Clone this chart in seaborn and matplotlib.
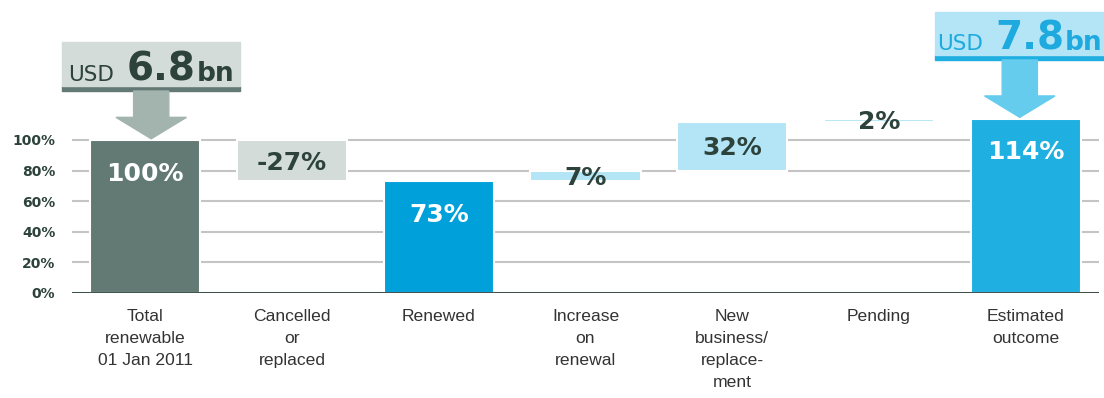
import matplotlib
matplotlib.use("Agg")
import matplotlib.pyplot as plt
import matplotlib.font_manager as fm
from matplotlib.patches import Rectangle, Polygon
import seaborn as sns

# chart data
categories = ["Total\nrenewable\n01 Jan 2011", "Cancelled\nor\nreplaced", "Renewed",
              "Increase\non\nrenewal", "New\nbusiness/\nreplace-\nment", "Pending",
              "Estimated\noutcome"]
heights = [100, 27, 73, 7, 32, 2, 114]
bottoms = [0, 73, 0, 73, 80, 112, 0]
value_labels = ["100%", "-27%", "73%", "7%", "32%", "2%", "114%"]
bar_colors = ["#627A73", "#D3DCD9", "#00A0DB", "#B3E5F6", "#B3E5F6", "#B3E5F6", "#1FAFE1"]
yticks = [0, 20, 40, 60, 80, 100]
start_total = ("USD", "6.8", "bn")
end_total = ("USD", "7.8", "bn")

DARK = "#2C423B"
installed = {f.name for f in fm.fontManager.ttflist}
cat_font = "Liberation Sans Narrow" if "Liberation Sans Narrow" in installed else "Liberation Sans"
cat_size = 14 if cat_font == "Liberation Sans Narrow" else 12.6

fig = plt.figure(figsize=(11.04, 3.98), dpi=100)
ax = fig.add_axes([72 / 1104, 105 / 398, 1027 / 1104, 293 / 398])

sns.barplot(x=categories, y=heights, hue=categories, palette=bar_colors, legend=False,
            width=0.75, saturation=1, edgecolor="white", linewidth=1.5, ax=ax, zorder=2)
for bar, b in zip(ax.patches, bottoms):
    bar.set_y(b)

ax.set_xlim(-0.5, 6.5)
ax.set_ylim(0, 191.5)
ax.set_yticks(yticks)
ax.set_yticklabels([f"{t}%" for t in yticks], fontweight="bold", fontsize=10, color=DARK,
                   family="DejaVu Sans")
ax.tick_params(axis="y", length=0, pad=12)
ax.tick_params(axis="x", length=0, pad=11.5)
for lbl in ax.get_xticklabels():
    lbl.set_family(cat_font)
    lbl.set_fontsize(cat_size)
    lbl.set_color("#333333")
    lbl.set_linespacing(1.58)
    lbl.set_verticalalignment("top")
for s in ax.spines.values():
    s.set_visible(False)
ax.set_axisbelow(True)
ax.grid(axis="y", color="#C4C4C4", linewidth=1.5)
ax.grid(axis="x", visible=False)
ax.axhline(0, color=DARK, linewidth=2, zorder=3)

# value labels
for i, (h, b, lab) in enumerate(zip(heights, bottoms, value_labels)):
    if b == 0:
        ax.text(i, b + h - 22, lab, ha="center", va="center", color="white",
                fontsize=18, fontweight="bold", zorder=4)
    else:
        ax.text(i, b + h / 2 - 1.5, lab, ha="center", va="center", color=DARK,
                fontsize=18, fontweight="bold", zorder=4)

renderer = fig.canvas.get_renderer()


def callout(i, top, lift, box_w, box_h, bg, strip, arrow_c, txt_c, parts, xshift):
    xc = i + xshift
    y_strip = top + lift
    ax.add_patch(Rectangle((xc - box_w / 2, y_strip), box_w, 3.3, color=strip,
                           clip_on=False, zorder=5))
    ax.add_patch(Rectangle((xc - box_w / 2, y_strip + 3.3), box_w, box_h, color=bg,
                           clip_on=False, zorder=5))
    tip = top + 0.8
    head = tip + 14
    sw, hw = 0.12, 0.24
    ax.add_patch(Polygon([(xc - sw, y_strip), (xc + sw, y_strip), (xc + sw, head),
                          (xc + hw, head), (xc, tip), (xc - hw, head), (xc - sw, head)],
                         closed=True, color=arrow_c, clip_on=False, zorder=5))
    # text row: USD  6.8bn on a shared baseline
    styles = [dict(fontsize=15.5, fontweight="normal"), dict(fontsize=28, fontweight="bold"),
              dict(fontsize=19, fontweight="bold")]
    gaps = [12, 1, 0]
    ybase = y_strip + 3.3 + 3.5
    texts = [ax.annotate(p, (xc, ybase), xycoords="data", textcoords="offset pixels",
                         xytext=(0, 0), ha="left", va="baseline", color=txt_c,
                         annotation_clip=False, zorder=6, **st)
             for p, st in zip(parts, styles)]
    widths = [t.get_window_extent(renderer).width for t in texts]
    total = sum(widths) + sum(gaps[:-1])
    cur = -total / 2
    for t, w, g in zip(texts, widths, gaps):
        t.set_position((cur, 0))
        t.xyann = (cur, 0)
        cur += w + g


callout(0, heights[0], 32, 1.213, 28.8, "#D3DCD9", "#627A73", "#A3B4AE", DARK,
        start_total, 0.04)
callout(6, heights[6], 38.3, 1.152, 28.1, "#B3E5F6", "#1FAFE1", "#66CCEE", "#1FAADF",
        end_total, -0.04)

fig.savefig("out.png", dpi=100)
